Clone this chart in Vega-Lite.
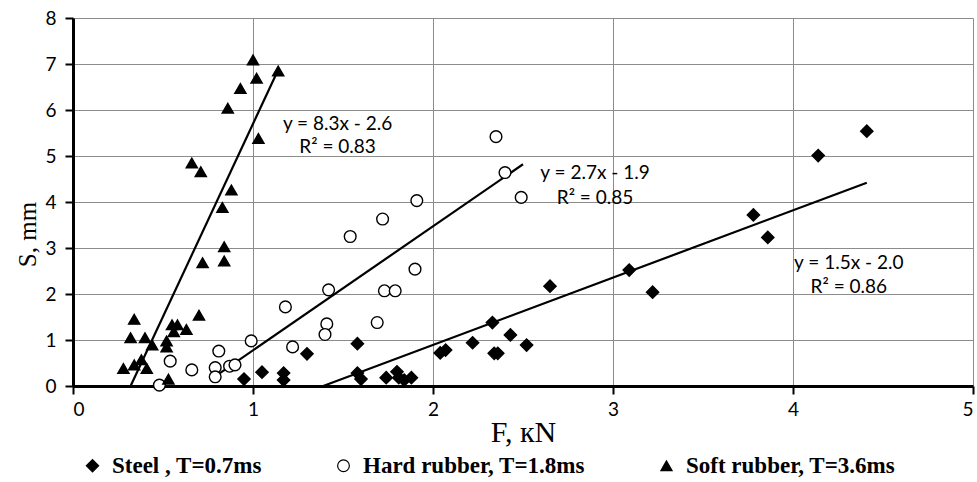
{
  "$schema": "https://vega.github.io/schema/vega-lite/v6.json",
  "width": 900,
  "height": 368,
  "autosize": "none",
  "padding": {"left": 73, "top": 18, "right": 4, "bottom": 96},
  "background": "white",
  "config": {"view": {"stroke": null}},
  "datasets": {
    "pts": [
      {"series": "Steel , T=0.7ms", "F": 0.95, "S": 0.15},
      {"series": "Steel , T=0.7ms", "F": 1.05, "S": 0.30},
      {"series": "Steel , T=0.7ms", "F": 1.17, "S": 0.28},
      {"series": "Steel , T=0.7ms", "F": 1.17, "S": 0.13},
      {"series": "Steel , T=0.7ms", "F": 1.30, "S": 0.70},
      {"series": "Steel , T=0.7ms", "F": 1.58, "S": 0.92},
      {"series": "Steel , T=0.7ms", "F": 1.58, "S": 0.28},
      {"series": "Steel , T=0.7ms", "F": 1.60, "S": 0.15},
      {"series": "Steel , T=0.7ms", "F": 1.74, "S": 0.18},
      {"series": "Steel , T=0.7ms", "F": 1.80, "S": 0.31},
      {"series": "Steel , T=0.7ms", "F": 1.81, "S": 0.18},
      {"series": "Steel , T=0.7ms", "F": 1.84, "S": 0.13},
      {"series": "Steel , T=0.7ms", "F": 1.88, "S": 0.18},
      {"series": "Steel , T=0.7ms", "F": 2.04, "S": 0.72},
      {"series": "Steel , T=0.7ms", "F": 2.07, "S": 0.78},
      {"series": "Steel , T=0.7ms", "F": 2.22, "S": 0.94},
      {"series": "Steel , T=0.7ms", "F": 2.33, "S": 1.38},
      {"series": "Steel , T=0.7ms", "F": 2.34, "S": 0.71},
      {"series": "Steel , T=0.7ms", "F": 2.36, "S": 0.71},
      {"series": "Steel , T=0.7ms", "F": 2.43, "S": 1.11},
      {"series": "Steel , T=0.7ms", "F": 2.52, "S": 0.89},
      {"series": "Steel , T=0.7ms", "F": 2.65, "S": 2.17},
      {"series": "Steel , T=0.7ms", "F": 3.09, "S": 2.52},
      {"series": "Steel , T=0.7ms", "F": 3.22, "S": 2.04},
      {"series": "Steel , T=0.7ms", "F": 3.78, "S": 3.72},
      {"series": "Steel , T=0.7ms", "F": 3.86, "S": 3.23},
      {"series": "Steel , T=0.7ms", "F": 4.14, "S": 5.01},
      {"series": "Steel , T=0.7ms", "F": 4.41, "S": 5.54},
      {"series": "Hard rubber, T=1.8ms", "F": 2.35, "S": 5.42},
      {"series": "Hard rubber, T=1.8ms", "F": 2.40, "S": 4.64},
      {"series": "Hard rubber, T=1.8ms", "F": 2.49, "S": 4.10},
      {"series": "Hard rubber, T=1.8ms", "F": 1.91, "S": 4.03},
      {"series": "Hard rubber, T=1.8ms", "F": 1.72, "S": 3.63},
      {"series": "Hard rubber, T=1.8ms", "F": 1.54, "S": 3.25},
      {"series": "Hard rubber, T=1.8ms", "F": 1.90, "S": 2.54},
      {"series": "Hard rubber, T=1.8ms", "F": 1.42, "S": 2.09},
      {"series": "Hard rubber, T=1.8ms", "F": 1.73, "S": 2.07},
      {"series": "Hard rubber, T=1.8ms", "F": 1.79, "S": 2.07},
      {"series": "Hard rubber, T=1.8ms", "F": 1.18, "S": 1.72},
      {"series": "Hard rubber, T=1.8ms", "F": 1.41, "S": 1.35},
      {"series": "Hard rubber, T=1.8ms", "F": 1.69, "S": 1.38},
      {"series": "Hard rubber, T=1.8ms", "F": 1.40, "S": 1.12},
      {"series": "Hard rubber, T=1.8ms", "F": 0.99, "S": 0.98},
      {"series": "Hard rubber, T=1.8ms", "F": 1.22, "S": 0.85},
      {"series": "Hard rubber, T=1.8ms", "F": 0.81, "S": 0.76},
      {"series": "Hard rubber, T=1.8ms", "F": 0.54, "S": 0.54},
      {"series": "Hard rubber, T=1.8ms", "F": 0.66, "S": 0.35},
      {"series": "Hard rubber, T=1.8ms", "F": 0.79, "S": 0.40},
      {"series": "Hard rubber, T=1.8ms", "F": 0.79, "S": 0.20},
      {"series": "Hard rubber, T=1.8ms", "F": 0.87, "S": 0.43},
      {"series": "Hard rubber, T=1.8ms", "F": 0.90, "S": 0.46},
      {"series": "Hard rubber, T=1.8ms", "F": 0.48, "S": 0.02},
      {"series": "Soft rubber, T=3.6ms", "F": 1.00, "S": 7.09},
      {"series": "Soft rubber, T=3.6ms", "F": 1.02, "S": 6.69},
      {"series": "Soft rubber, T=3.6ms", "F": 1.14, "S": 6.85},
      {"series": "Soft rubber, T=3.6ms", "F": 0.93, "S": 6.47},
      {"series": "Soft rubber, T=3.6ms", "F": 0.86, "S": 6.04},
      {"series": "Soft rubber, T=3.6ms", "F": 1.03, "S": 5.38},
      {"series": "Soft rubber, T=3.6ms", "F": 0.66, "S": 4.85},
      {"series": "Soft rubber, T=3.6ms", "F": 0.71, "S": 4.66},
      {"series": "Soft rubber, T=3.6ms", "F": 0.88, "S": 4.26},
      {"series": "Soft rubber, T=3.6ms", "F": 0.83, "S": 3.88},
      {"series": "Soft rubber, T=3.6ms", "F": 0.84, "S": 3.03},
      {"series": "Soft rubber, T=3.6ms", "F": 0.84, "S": 2.72},
      {"series": "Soft rubber, T=3.6ms", "F": 0.72, "S": 2.68},
      {"series": "Soft rubber, T=3.6ms", "F": 0.70, "S": 1.54},
      {"series": "Soft rubber, T=3.6ms", "F": 0.34, "S": 1.45},
      {"series": "Soft rubber, T=3.6ms", "F": 0.32, "S": 1.05},
      {"series": "Soft rubber, T=3.6ms", "F": 0.40, "S": 1.05},
      {"series": "Soft rubber, T=3.6ms", "F": 0.55, "S": 1.33},
      {"series": "Soft rubber, T=3.6ms", "F": 0.58, "S": 1.33},
      {"series": "Soft rubber, T=3.6ms", "F": 0.56, "S": 1.18},
      {"series": "Soft rubber, T=3.6ms", "F": 0.63, "S": 1.23},
      {"series": "Soft rubber, T=3.6ms", "F": 0.44, "S": 0.89},
      {"series": "Soft rubber, T=3.6ms", "F": 0.52, "S": 0.98},
      {"series": "Soft rubber, T=3.6ms", "F": 0.52, "S": 0.85},
      {"series": "Soft rubber, T=3.6ms", "F": 0.28, "S": 0.38},
      {"series": "Soft rubber, T=3.6ms", "F": 0.34, "S": 0.46},
      {"series": "Soft rubber, T=3.6ms", "F": 0.38, "S": 0.57},
      {"series": "Soft rubber, T=3.6ms", "F": 0.41, "S": 0.38},
      {"series": "Soft rubber, T=3.6ms", "F": 0.53, "S": 0.15}
    ],
    "trend": [
      {"series": "Steel", "F": 1.39, "S": 0.0},
      {"series": "Steel", "F": 4.41, "S": 4.42},
      {"series": "Hard", "F": 0.79, "S": 0.21},
      {"series": "Hard", "F": 2.50, "S": 4.82},
      {"series": "Soft", "F": 0.32, "S": 0.0},
      {"series": "Soft", "F": 1.135, "S": 6.83}
    ],
    "notes": [
      {"F": 1.47, "S": 5.70, "label": "y = 8.3x - 2.6"},
      {"F": 1.47, "S": 5.19, "label": "R² = 0.83"},
      {"F": 2.90, "S": 4.63, "label": "y = 2.7x - 1.9"},
      {"F": 2.90, "S": 4.09, "label": "R² = 0.85"},
      {"F": 4.31, "S": 2.67, "label": "y = 1.5x - 2.0"},
      {"F": 4.31, "S": 2.15, "label": "R² = 0.86"}
    ]
  },
  "layer": [
    {
      "data": {"name": "trend"},
      "mark": {"type": "line", "color": "black", "strokeWidth": 2.2},
      "encoding": {
        "x": {
          "field": "F", "type": "quantitative",
          "scale": {"domain": [0, 5], "nice": false},
          "axis": {
            "values": [0, 1, 2, 3, 4, 5], "format": "d",
            "title": "F, кN",
            "titleFont": "Liberation Serif", "titleFontSize": 30, "titleFontWeight": "normal",
            "titleColor": "black", "titleBaseline": "middle", "titleY": 46,
            "labelFont": "Lato", "labelFontSize": 19, "labelColor": "black",
            "labelPadding": 6,
            "tickSize": 8, "tickColor": "black", "tickWidth": 2,
            "domainColor": "black", "domainWidth": 3,
            "grid": true, "gridColor": "#8c8c8c", "gridWidth": 1
          }
        },
        "y": {
          "field": "S", "type": "quantitative",
          "scale": {"domain": [0, 8], "nice": false},
          "axis": {
            "values": [0, 1, 2, 3, 4, 5, 6, 7, 8], "format": "d",
            "title": "S, mm",
            "titleFont": "Liberation Serif", "titleFontSize": 25, "titleFontWeight": "normal",
            "titleColor": "black", "titleX": -46, "titleY": 216, "titleBaseline": "middle",
            "labelFont": "Lato", "labelFontSize": 19, "labelColor": "black",
            "labelPadding": 9,
            "tickSize": 8, "tickColor": "black", "tickWidth": 2,
            "domainColor": "black", "domainWidth": 3,
            "grid": true, "gridColor": "#8c8c8c", "gridWidth": 1
          }
        },
        "detail": {"field": "series"}
      }
    },
    {
      "data": {"name": "pts"},
      "mark": {"type": "point", "filled": true, "strokeWidth": 1.4, "opacity": 1},
      "encoding": {
        "x": {"field": "F", "type": "quantitative"},
        "y": {"field": "S", "type": "quantitative"},
        "shape": {
          "field": "series", "type": "nominal",
          "scale": {
            "domain": ["Steel , T=0.7ms", "Hard rubber, T=1.8ms", "Soft rubber, T=3.6ms"],
            "range": ["diamond", "circle", "triangle-up"]
          },
          "legend": {
            "orient": "none", "legendX": 8, "legendY": 436,
            "direction": "horizontal", "title": null,
            "labelFont": "Liberation Serif", "labelFontSize": 23, "labelFontWeight": "bold",
            "labelColor": "black", "labelLimit": 400,
            "symbolSize": 50, "symbolStrokeColor": "black", "symbolStrokeWidth": 1.2,
            "columnPadding": 70, "labelOffset": 8
          }
        },
        "fill": {
          "field": "series", "type": "nominal",
          "scale": {
            "domain": ["Steel , T=0.7ms", "Hard rubber, T=1.8ms", "Soft rubber, T=3.6ms"],
            "range": ["black", "white", "black"]
          }
        },
        "stroke": {"value": "black"},
        "size": {
          "field": "series", "type": "nominal",
          "scale": {
            "domain": ["Steel , T=0.7ms", "Hard rubber, T=1.8ms", "Soft rubber, T=3.6ms"],
            "range": [150, 125, 180]
          }
        }
      }
    },
    {
      "data": {"name": "notes"},
      "mark": {"type": "text", "font": "Lato", "fontSize": 19, "color": "black", "align": "center", "baseline": "middle"},
      "encoding": {
        "x": {"field": "F", "type": "quantitative"},
        "y": {"field": "S", "type": "quantitative"},
        "text": {"field": "label"}
      }
    }
  ]
}
